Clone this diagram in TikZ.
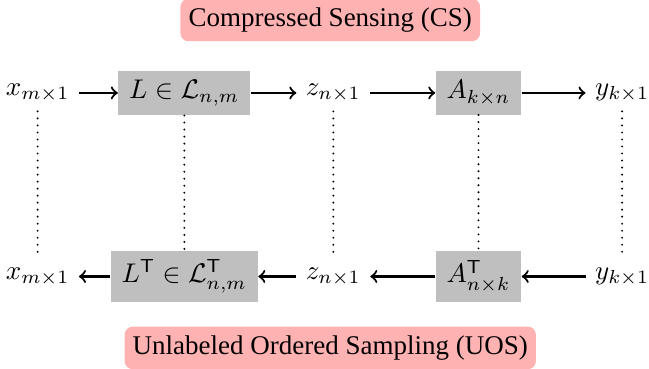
\documentclass[tikz,border=0pt]{standalone}
\usepackage[no-math]{fontspec}
\setmainfont{Liberation Serif}
\usepackage{amsmath}
\tikzset{
  opbox/.style={fill=gray!50, minimum height=16pt, inner xsep=4pt},
  modelbox/.style={fill=red!30, rounded corners=3pt, minimum height=15pt, inner xsep=3pt},
  flow/.style={->, thick},
  link/.style={line width=0.8pt, line cap=round, dash pattern=on 0pt off 2.6pt},
}
\begin{document}
\begin{tikzpicture}
        \useasboundingbox (0,0) rectangle (8.45,4.80);
        % forward model
        \node[modelbox] (cs) at (4.30,4.54) {Compressed Sensing (CS)};
        \node (xtop) at (0.49,3.59) {$x_{m\times 1}$};
        \node[opbox] (L) at (2.40,3.59) {$L\in\mathcal{L}_{n,m}$};
        \node (ztop) at (4.34,3.59) {$z_{n\times 1}$};
        \node[opbox] (A) at (6.23,3.59) {$A_{k\times n}$};
        \node (ytop) at (8.10,3.59) {$y_{k\times 1}$};
        \draw[flow] (xtop)--(L);
        \draw[flow] (L)--(ztop);
        \draw[flow] (ztop)--(A);
        \draw[flow] (A)--(ytop);
        % adjoint model
        \node[modelbox] (uos) at (4.30,0.27) {Unlabeled Ordered Sampling (UOS)};
        \node (xbot) at (0.49,1.20) {$x_{m\times 1}$};
        \node[opbox] (Lt) at (2.40,1.20) {$L^{\mathsf{T}}\in\mathcal{L}^{\mathsf{T}}_{n,m}$};
        \node (zbot) at (4.34,1.20) {$z_{n\times 1}$};
        \node[opbox] (At) at (6.23,1.20) {$A^{\mathsf{T}}_{n\times k}$};
        \node (ybot) at (8.10,1.20) {$y_{k\times 1}$};
        \draw[flow] (Lt)--(xbot);
        \draw[flow] (zbot)--(Lt);
        \draw[flow] (At)--(zbot);
        \draw[flow] (ybot)--(At);
        % vertical links
        \draw[link] (xtop)--(xbot);
        \draw[link] (L)--(Lt);
        \draw[link] (ztop)--(zbot);
        \draw[link] (A)--(At);
        \draw[link] (ytop)--(ybot);
\end{tikzpicture}
\end{document}
